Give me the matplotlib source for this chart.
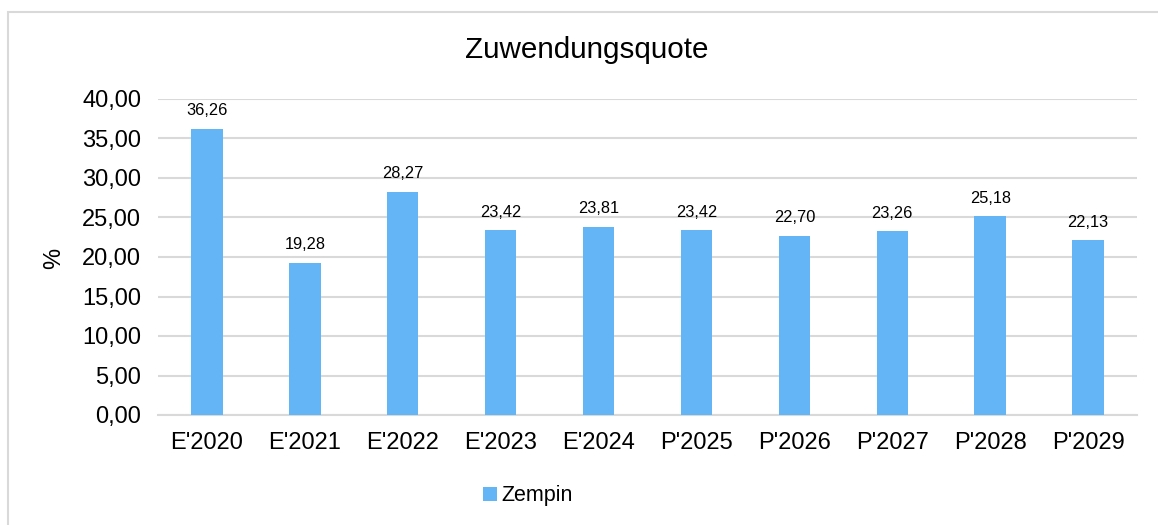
import matplotlib
matplotlib.use("Agg")
import matplotlib.pyplot as plt
from matplotlib.patches import Rectangle
from matplotlib.ticker import FuncFormatter

categories = ["E'2020", "E'2021", "E'2022", "E'2023", "E'2024",
              "P'2025", "P'2026", "P'2027", "P'2028", "P'2029"]
values = [36.26, 19.28, 28.27, 23.42, 23.81, 23.42, 22.70, 23.26, 25.18, 22.13]
yticks = [0, 5, 10, 15, 20, 25, 30, 35, 40]
series_name = "Zempin"
title = "Zuwendungsquote"

plt.rcParams['font.family'] = ['Liberation Sans', 'DejaVu Sans']

W, H = 1158, 525
fig = plt.figure(figsize=(W / 100, H / 100), dpi=100)

# border (partially cropped)
fig.patches.append(Rectangle((8 / W, -0.1), 1.2, 1 - 12 / H + 0.1,
                             transform=fig.transFigure, fill=False,
                             edgecolor="#D9D9D9", linewidth=1.5))

left, right, top, bottom = 158, 1137, 99, 415
ax = fig.add_axes([left / W, 1 - bottom / H, (right - left) / W, (bottom - top) / H])

color = "#64B5F6"
x = list(range(len(categories)))
bars = ax.bar(x, values, width=0.32, color=color, zorder=3, label=series_name)
for xi, v in zip(x, values):
    ax.annotate(f"{v:.2f}".replace(".", ","), (xi, v), xytext=(0, 7.5),
                textcoords="offset points", ha="center", va="bottom",
                fontsize=11.8, color="#000000")

ax.set_xlim(-0.5, len(categories) - 0.5)
ax.set_ylim(0, 40)
ax.set_yticks(yticks)
ax.yaxis.set_major_formatter(FuncFormatter(lambda v, p: f"{v:.2f}".replace(".", ",")))
ax.set_xticks(x)
ax.set_xticklabels(categories)
ax.tick_params(axis="both", length=0, labelsize=17, colors="#000000")
ax.tick_params(axis="x", pad=12)
ax.tick_params(axis="y", pad=12)
ax.grid(axis="y", color="#D9D9D9", linewidth=1.5, zorder=0)
for s in ["top", "right", "left"]:
    ax.spines[s].set_visible(False)
ax.spines["bottom"].set_color("#D9D9D9")
ax.spines["bottom"].set_linewidth(1.5)

fig.text(54 / W, 1 - 258 / H, "%", rotation=90, ha="center", va="center", fontsize=17)
fig.text(587 / W, 1 - 50 / H, title, ha="center", va="center", fontsize=21.3)

leg = fig.legend(handles=[bars], labels=[series_name], loc="center",
                 bbox_to_anchor=(528 / W, 1 - 496 / H), frameon=False,
                 fontsize=15.5, handlelength=0.65, handleheight=0.65,
                 handletextpad=0.2)

fig.savefig("out.png", dpi=100)
